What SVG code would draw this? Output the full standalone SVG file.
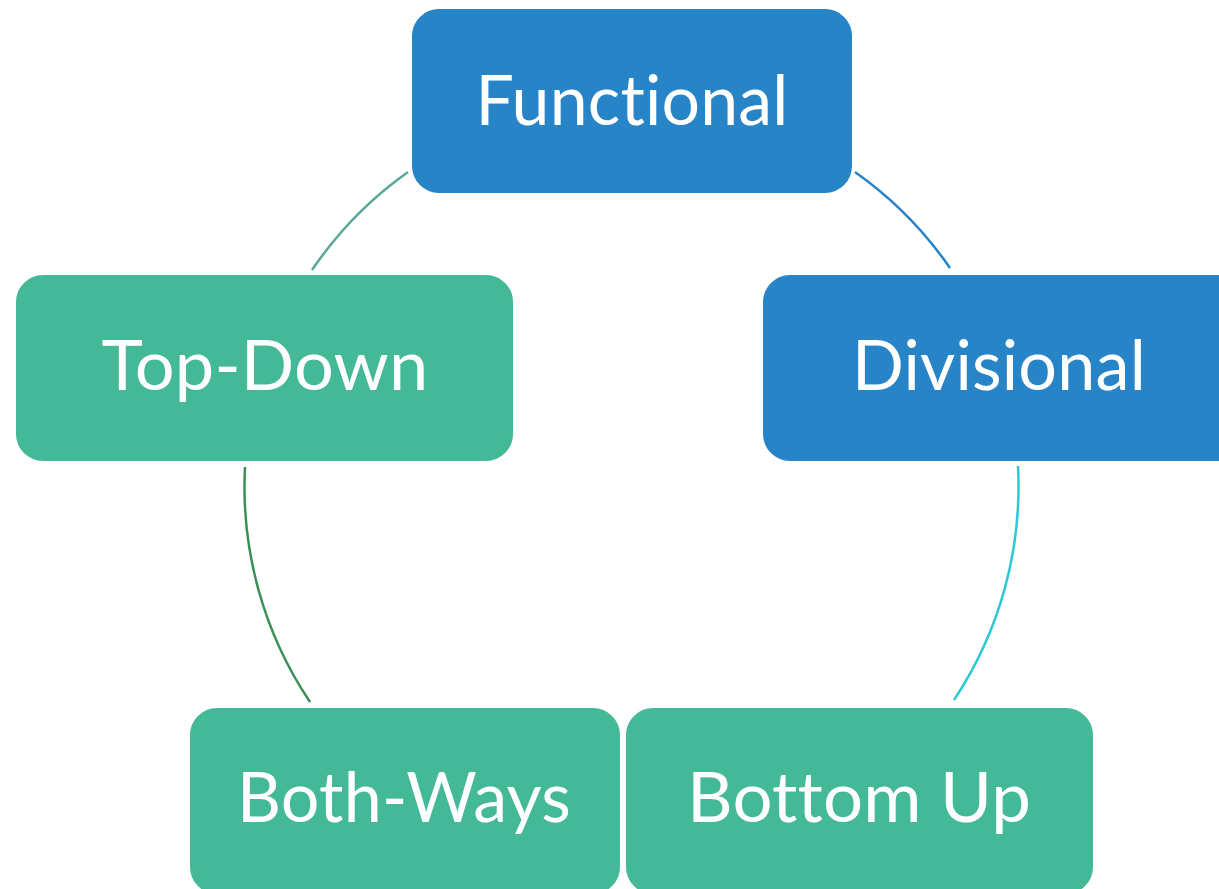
<svg xmlns="http://www.w3.org/2000/svg" width="1219" height="889" viewBox="0 0 1219 889">
<style>
.box{stroke:#ffffff;stroke-width:2}
.blue{fill:#2784C7}
.green{fill:#44B997}
.lbl{font-family:Lato,"Open Sans","Liberation Sans",sans-serif;font-size:70px;fill:#ffffff;text-anchor:middle;font-variant-ligatures:none;font-feature-settings:"liga" 0,"dlig" 0,"clig" 0;letter-spacing:0.2px}
.arc{fill:none;stroke-width:2.5}
</style>
<rect width="1219" height="889" fill="#ffffff"/>
<g id="connectors">
<path class="arc" stroke="#5BA89A" d="M408,172 A386,386 0 0 0 312,270"/>
<path class="arc" stroke="#2784C7" d="M855,172 A386,386 0 0 1 950,268"/>
<path class="arc" stroke="#3A8F55" d="M245,467 A386,386 0 0 0 310,702"/>
<path class="arc" stroke="#2DC9D6" d="M1018,466 A386,386 0 0 1 954,700"/>
</g>
<g id="node-functional">
<rect class="box blue" x="411" y="8" width="442" height="186" rx="28"/>
<text class="lbl" x="632" y="125" textLength="313" lengthAdjust="spacingAndGlyphs">Functional</text>
</g>
<g id="node-topdown">
<rect class="box green" x="15" y="274" width="499" height="188" rx="28"/>
<text class="lbl" x="265" y="390" textLength="327" lengthAdjust="spacingAndGlyphs">Top-Down</text>
</g>
<g id="node-divisional">
<rect class="box blue" x="762" y="274" width="499" height="188" rx="28"/>
<text class="lbl" x="999" y="390" textLength="294" lengthAdjust="spacingAndGlyphs">Divisional</text>
</g>
<g id="node-bothways">
<rect class="box green" x="189" y="707" width="432" height="188" rx="28"/>
<text class="lbl" x="404" y="822" textLength="334" lengthAdjust="spacingAndGlyphs">Both-Ways</text>
</g>
<g id="node-bottomup">
<rect class="box green" x="625" y="707" width="469" height="188" rx="28"/>
<text class="lbl" x="859" y="822" textLength="344" lengthAdjust="spacingAndGlyphs">Bottom Up</text>
</g>
</svg>
